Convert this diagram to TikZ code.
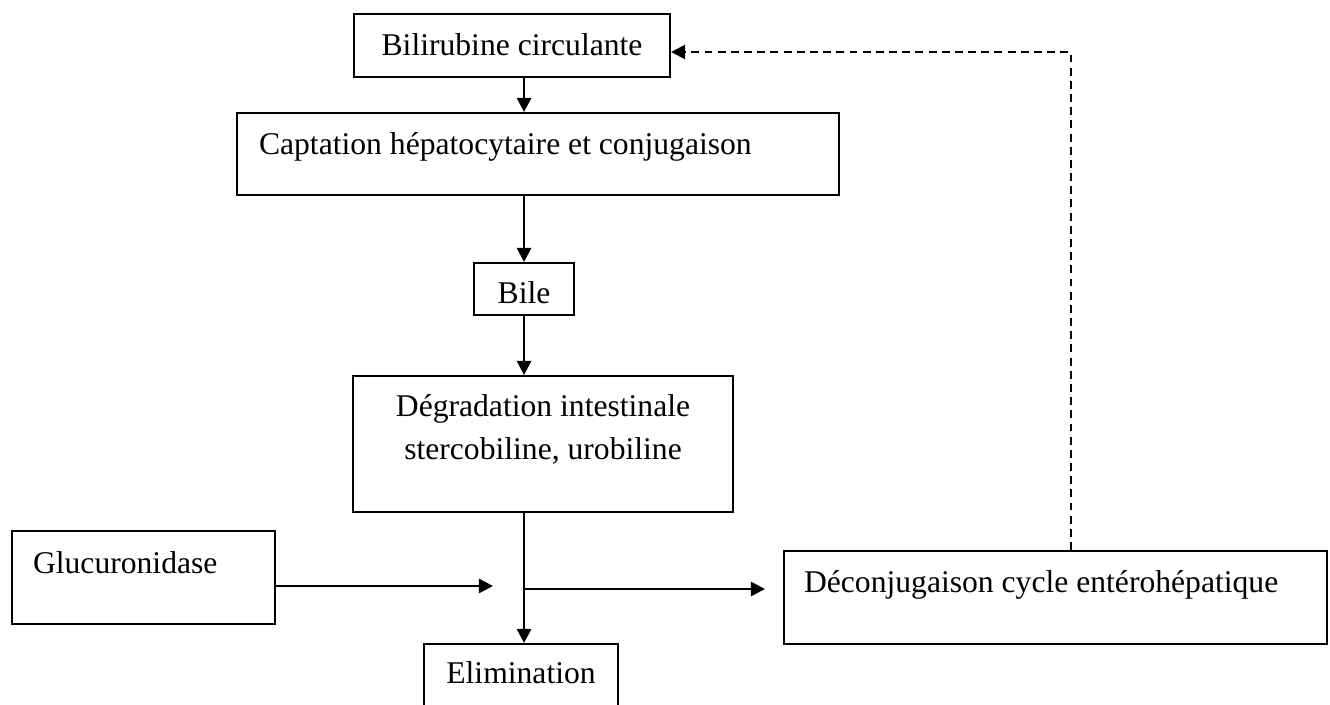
\documentclass[tikz,border=0pt]{standalone}
\usepackage{fontspec}
\setmainfont{Liberation Serif}
\usetikzlibrary{arrows.meta,positioning}
\tikzset{
    boite/.style={
        rectangle,
        draw=black, line width=1.2pt,
        inner sep=0pt,
        anchor=north west,
        font={\fontsize{18pt}{24.5pt}\selectfont},
    },
    ligne/.style={draw, line width=1.5pt, ->},
    pointille/.style={draw, line width=1.2pt, dash pattern=on 4.5pt off 3pt, ->},
}

\begin{document}
\begin{tikzpicture}[x=0.02cm, y=-0.02cm, >={Triangle[length=8pt,width=8pt]}]
\useasboundingbox (0,0) rectangle (1330,704);

\node [boite, minimum width=6.32cm, text height=0.82cm, text depth=0.44cm]
  (bili) at (353,13) {Bilirubine circulante};
\node [boite, align=flush left, inner xsep=0.44cm, text width=11.16cm,
  text height=0.82cm, text depth=0.82cm]
  (capt) at (236,112) {Captation hépatocytaire et conjugaison};
\node [boite, minimum width=2cm, text height=0.80cm, text depth=0.24cm]
  (bile) at (473,262) {Bile};
\node [boite, align=flush center, minimum width=7.6cm, text height=1.66cm, text depth=1.06cm]
  (degr) at (352,375) {Dégradation intestinale\\stercobiline, urobiline};
\node [boite, align=flush left, inner xsep=0.42cm, text width=4.42cm,
  text height=0.84cm, text depth=1.02cm]
  (gluc) at (11,530) {Glucuronidase};
\node [boite, align=flush left, inner xsep=0.40cm, text width=10.06cm,
  text height=0.82cm, text depth=1.04cm]
  (deconj) at (783,550) {Déconjugaison cycle entérohépatique};
\node [boite, minimum width=3.88cm, text height=0.78cm, text depth=0.6cm]
  (elim) at (423,643) {Elimination};

\coordinate (gluctip) at (493,586);
\coordinate (dectip) at (765,589);
\coordinate (retour) at (1071,52);

\foreach \a/\b in {bili/capt, capt/bile, bile/degr, degr/elim}
  \draw [ligne] (\a.south -| bile) -- (\b.north -| bile);

\draw [ligne] (gluc.east |- gluctip) -- (gluctip);
\draw [ligne] (bile |- dectip) -- (dectip);

% retour vers la circulation
\draw [pointille] (deconj.north -| retour) -- (retour) -- (retour -| bili.east);

\end{tikzpicture}
\end{document}
